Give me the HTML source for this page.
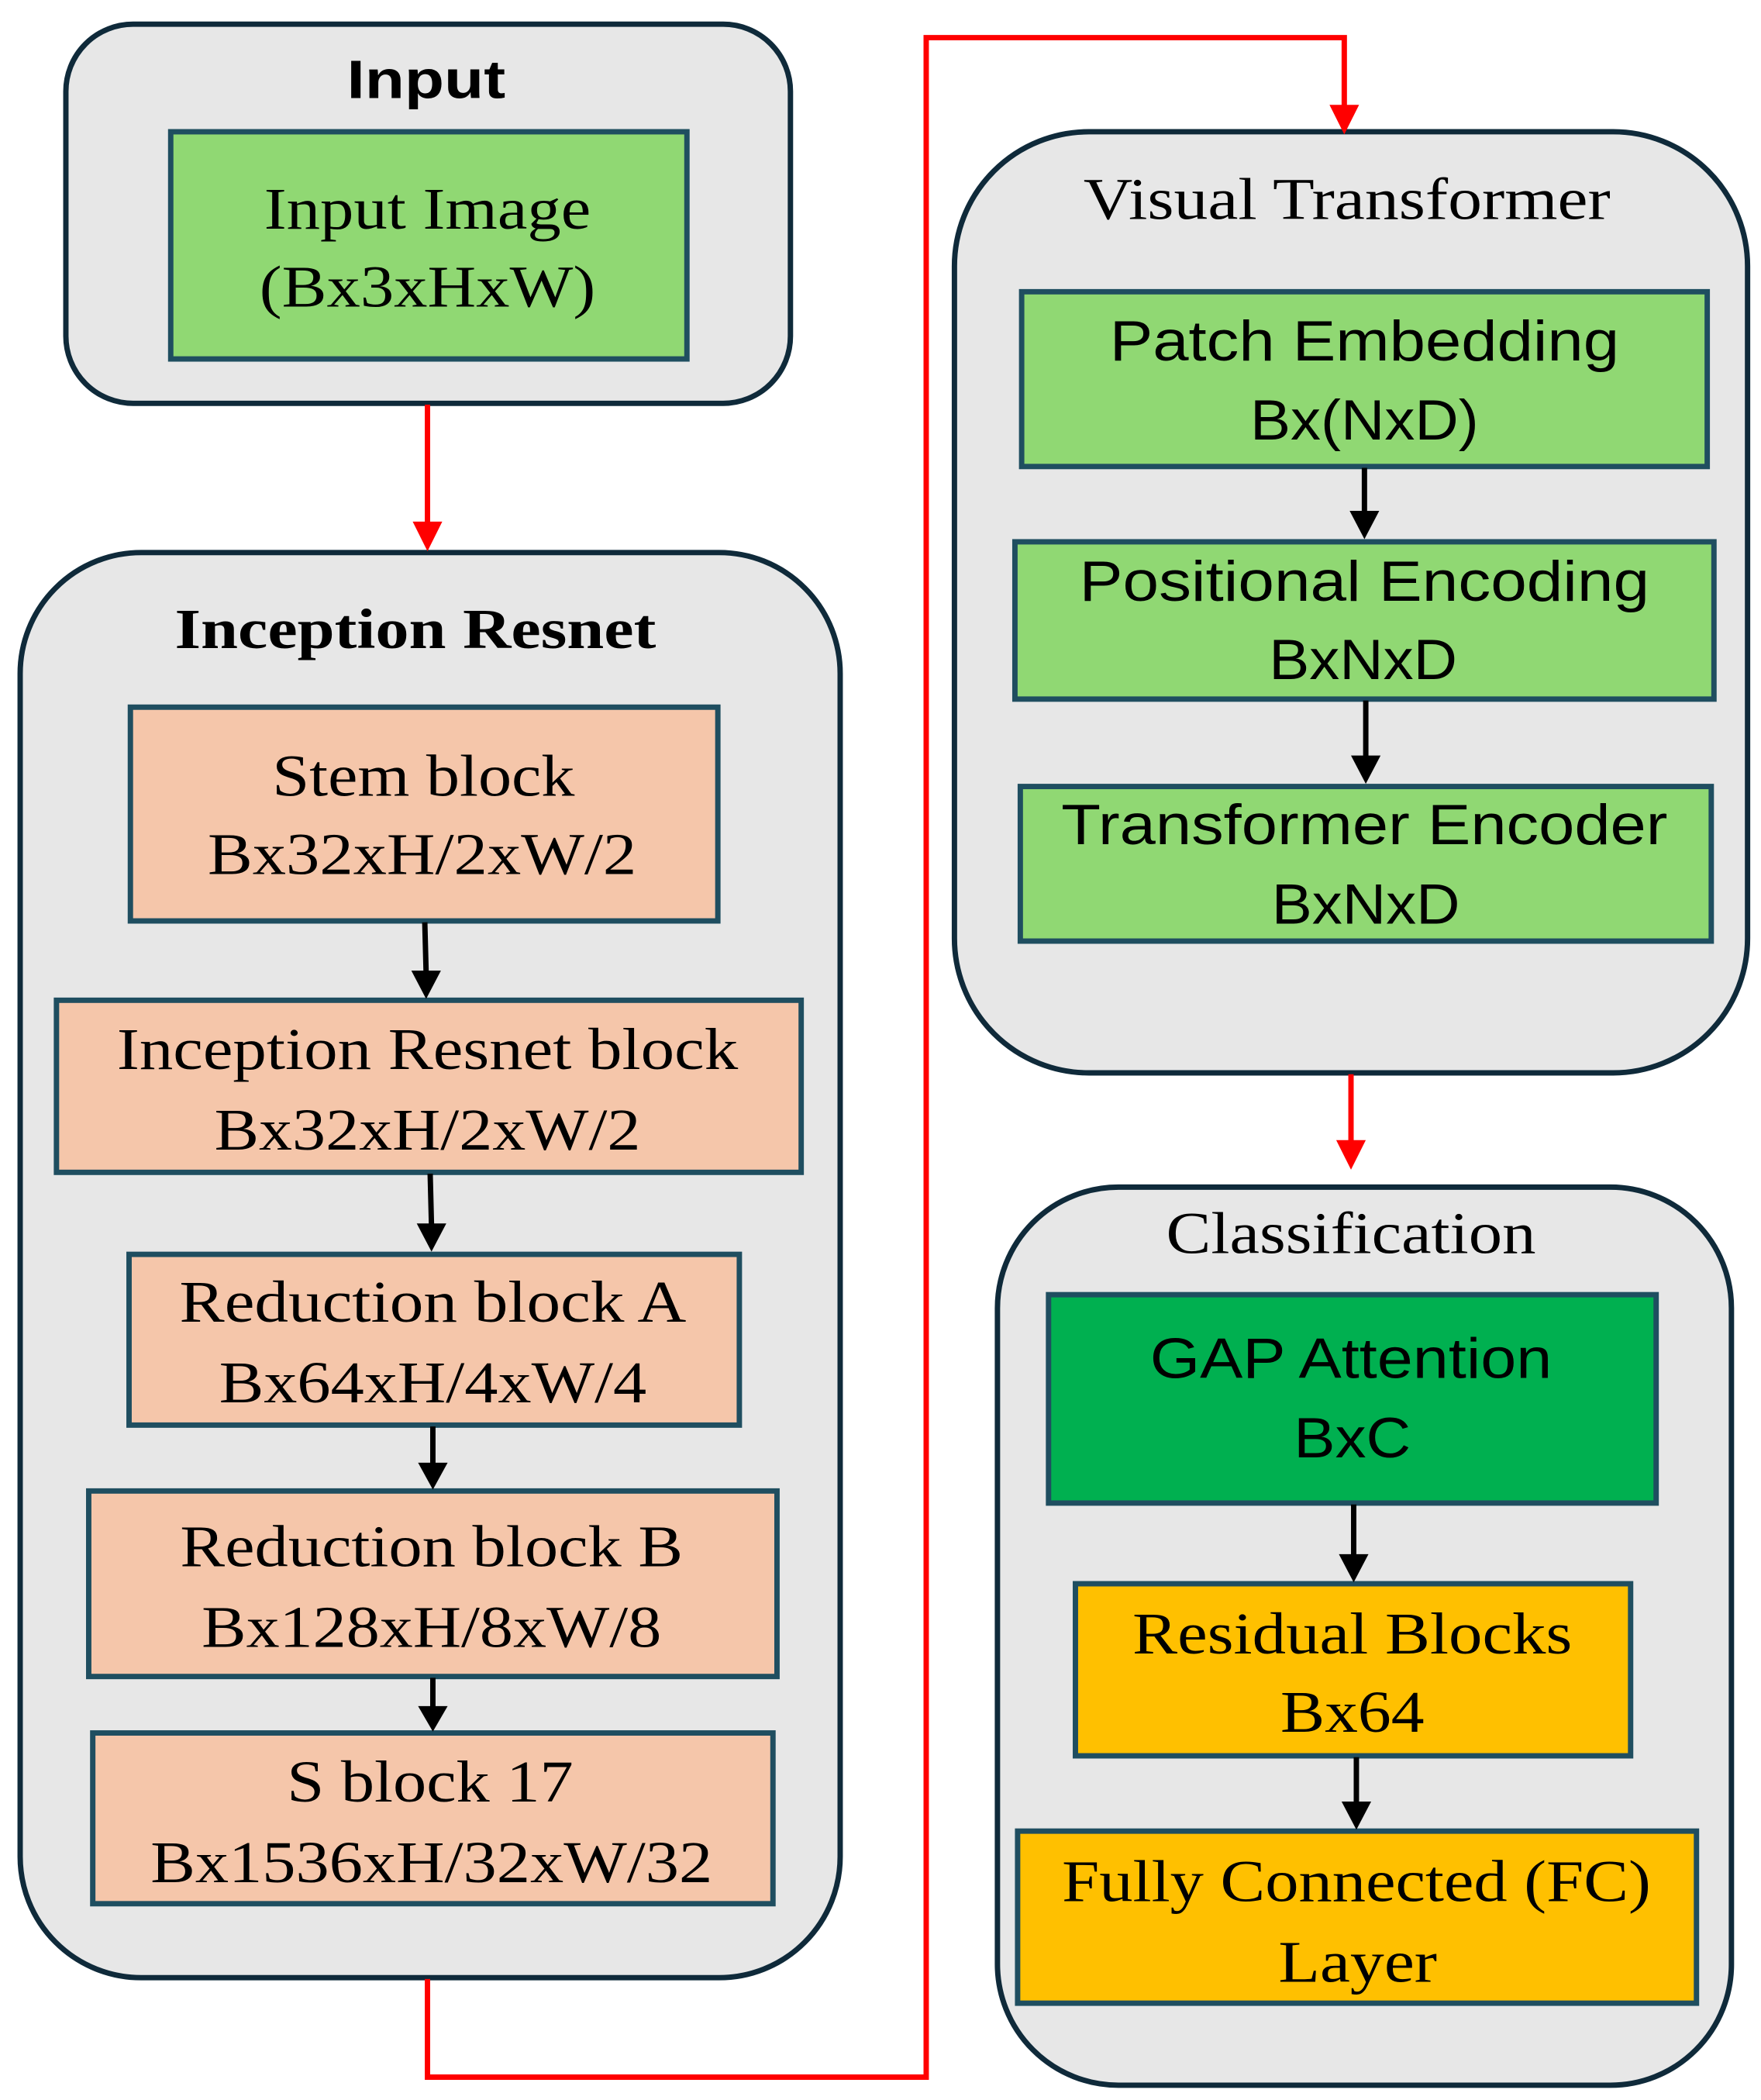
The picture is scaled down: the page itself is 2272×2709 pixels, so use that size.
<!DOCTYPE html>
<html><head><meta charset="utf-8"><style>html,body{margin:0;padding:0;background:#fff}svg{display:block}</style></head>
<body>
<svg width="2272" height="2709" viewBox="0 0 1310 1562" preserveAspectRatio="none" xmlns="http://www.w3.org/2000/svg">
<defs>
<marker id="ar" markerWidth="8" markerHeight="8" refX="4" refY="6" orient="auto" markerUnits="userSpaceOnUse" viewBox="0 0 8 8"></marker>
</defs>
<g stroke="#0f2a3a" stroke-width="4" fill="#e7e7e7">
<rect x="49" y="18" width="539" height="282" rx="50"/>
<rect x="15" y="411" width="610" height="1060" rx="90"/>
<rect x="710" y="98" width="590" height="700" rx="100"/>
<rect x="742" y="883" width="546" height="668" rx="90"/>
</g>
<g stroke="#1f4e60" stroke-width="4">
<rect x="127" y="98" width="384" height="169" fill="#90d873"/>
<rect x="97" y="526" width="437" height="159" fill="#f5c6aa"/>
<rect x="42" y="744" width="554" height="128" fill="#f5c6aa"/>
<rect x="96" y="933" width="454" height="127" fill="#f5c6aa"/>
<rect x="66" y="1109" width="512" height="138" fill="#f5c6aa"/>
<rect x="69" y="1289" width="506" height="127" fill="#f5c6aa"/>
<rect x="760" y="217" width="510" height="130" fill="#90d873"/>
<rect x="755" y="403" width="520" height="117" fill="#90d873"/>
<rect x="759" y="585" width="514" height="115" fill="#90d873"/>
<rect x="780" y="963" width="452" height="155" fill="#00b050"/>
<rect x="800" y="1178" width="413" height="128" fill="#ffc000"/>
<rect x="757" y="1362" width="505" height="128" fill="#ffc000"/>
</g>
<!-- red connectors -->
<g stroke="#f00" stroke-width="4" fill="none">
<line x1="318" y1="301" x2="318" y2="392"/>
<polyline points="318,1472 318,1545 689,1545 689,28 1000,28 1000,82"/>
<line x1="1005" y1="799" x2="1005" y2="852"/>
</g>
<g fill="#f00">
<polygon points="307,388 329,388 318,410"/>
<polygon points="989,78 1011,78 1000,100"/>
<polygon points="994,848 1016,848 1005,870"/>
</g>
<!-- black connectors -->
<g stroke="#000" stroke-width="4">
<line x1="316" y1="686" x2="317" y2="724"/>
<line x1="320" y1="873" x2="321" y2="912"/>
<line x1="322" y1="1061" x2="322" y2="1090"/>
<line x1="322" y1="1248" x2="322" y2="1271"/>
<line x1="1015" y1="348" x2="1015" y2="382"/>
<line x1="1016" y1="521" x2="1016" y2="564"/>
<line x1="1007" y1="1119" x2="1007" y2="1158"/>
<line x1="1009" y1="1307" x2="1009" y2="1342"/>
</g>
<g fill="#000">
<polygon points="306,722 328,722 317,743"/>
<polygon points="310,910 332,910 321,931"/>
<polygon points="311,1088 333,1088 322,1108"/>
<polygon points="311,1269 333,1269 322,1288"/>
<polygon points="1004,380 1026,380 1015,401"/>
<polygon points="1005,562 1027,562 1016,583"/>
<polygon points="996,1156 1018,1156 1007,1177"/>
<polygon points="998,1340 1020,1340 1009,1361"/>
</g>
<g fill="#000" text-anchor="middle" font-family="'Liberation Serif', serif" font-size="44" lengthAdjust="spacingAndGlyphs">
<text x="317" y="73" font-family="'Liberation Sans', sans-serif" font-weight="bold" font-size="40" textLength="118" lengthAdjust="spacingAndGlyphs">Input</text>
<text x="318" y="170" textLength="243" lengthAdjust="spacingAndGlyphs">Input Image</text>
<text x="318" y="228" textLength="250" lengthAdjust="spacingAndGlyphs">(Bx3xHxW)</text>
<text x="309" y="482" font-weight="bold" font-size="42" textLength="358" lengthAdjust="spacingAndGlyphs">Inception Resnet</text>
<text x="315" y="592" textLength="225" lengthAdjust="spacingAndGlyphs">Stem block</text>
<text x="314" y="650" textLength="319" lengthAdjust="spacingAndGlyphs">Bx32xH/2xW/2</text>
<text x="318" y="795" textLength="462" lengthAdjust="spacingAndGlyphs">Inception Resnet block</text>
<text x="318" y="855" textLength="317" lengthAdjust="spacingAndGlyphs">Bx32xH/2xW/2</text>
<text x="322" y="983" textLength="377" lengthAdjust="spacingAndGlyphs">Reduction block A</text>
<text x="322" y="1043" textLength="318" lengthAdjust="spacingAndGlyphs">Bx64xH/4xW/4</text>
<text x="321" y="1165" textLength="374" lengthAdjust="spacingAndGlyphs">Reduction block B</text>
<text x="321" y="1225" textLength="342" lengthAdjust="spacingAndGlyphs">Bx128xH/8xW/8</text>
<text x="320" y="1340" textLength="213" lengthAdjust="spacingAndGlyphs">S block 17</text>
<text x="321" y="1400" textLength="418" lengthAdjust="spacingAndGlyphs">Bx1536xH/32xW/32</text>
<text x="1002" y="163" textLength="392" lengthAdjust="spacingAndGlyphs">Visual Transformer</text>
<text x="1005" y="932" textLength="275" lengthAdjust="spacingAndGlyphs">Classification</text>
<text x="1006" y="1230" textLength="327" lengthAdjust="spacingAndGlyphs">Residual Blocks</text>
<text x="1006" y="1288" textLength="107" lengthAdjust="spacingAndGlyphs">Bx64</text>
<text x="1009" y="1414" textLength="438" lengthAdjust="spacingAndGlyphs">Fully Connected (FC)</text>
<text x="1010" y="1474" textLength="118" lengthAdjust="spacingAndGlyphs">Layer</text>
</g>
<g fill="#000" text-anchor="middle" font-family="'Liberation Sans', sans-serif" font-size="42">
<text x="1015" y="268" textLength="379" lengthAdjust="spacingAndGlyphs">Patch Embedding</text>
<text x="1015" y="327" textLength="170" lengthAdjust="spacingAndGlyphs">Bx(NxD)</text>
<text x="1015" y="447" textLength="424" lengthAdjust="spacingAndGlyphs">Positional Encoding</text>
<text x="1014" y="505" textLength="140" lengthAdjust="spacingAndGlyphs">BxNxD</text>
<text x="1015" y="628" textLength="451" lengthAdjust="spacingAndGlyphs">Transformer Encoder</text>
<text x="1016" y="687" textLength="140" lengthAdjust="spacingAndGlyphs">BxNxD</text>
<text x="1005" y="1025" textLength="299" lengthAdjust="spacingAndGlyphs">GAP Attention</text>
<text x="1006" y="1084" textLength="87" lengthAdjust="spacingAndGlyphs">BxC</text>
</g>
</svg>
</body></html>
